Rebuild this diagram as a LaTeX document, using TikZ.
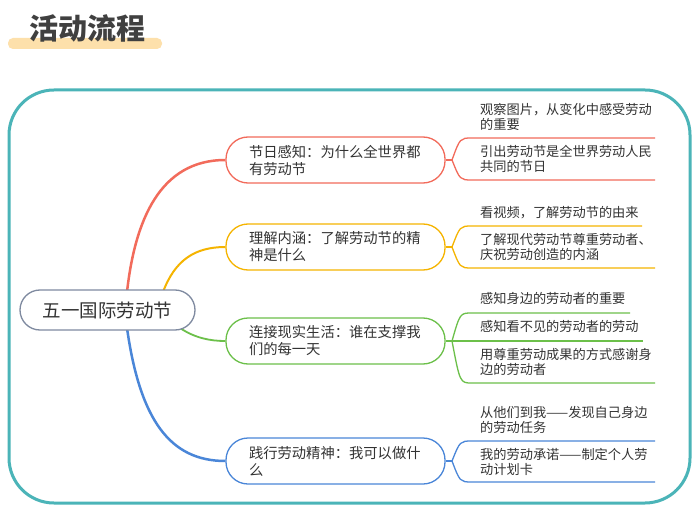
\documentclass[tikz,border=0pt]{standalone}
\usepackage{fontspec}
\setmainfont{Noto Sans CJK SC}
\begin{document}
\begin{tikzpicture}[x=1pt,y=-1pt,
 br/.style={draw=#1,line width=1.3pt,rounded corners=22pt,minimum width=219pt,minimum height=46pt,text width=173pt,align=left,font=\fontsize{14.3}{17}\selectfont,text=black!80,inner sep=0pt},
 leaf/.style={anchor=north west,align=left,font=\fontsize{13.2}{15}\selectfont,text=black!80,inner sep=0pt},
 con/.style={draw=#1,line width=1.5pt}]
\definecolor{teal}{HTML}{4BB4B8}\definecolor{rd}{HTML}{F26B5B}\definecolor{og}{HTML}{F5B400}
\definecolor{gn}{HTML}{6CC04A}\definecolor{bl}{HTML}{4A86D8}\definecolor{cg}{HTML}{7F8AA0}
\useasboundingbox (0,0) rectangle (700,529);
\fill[white] (0,0) rectangle (700,529);
\fill[yellow!25!orange!30, rounded corners=5pt] (8,38) rectangle (162,49);
\node[font=\bfseries\fontsize{29}{31}\selectfont,text=black!75,inner sep=0pt] (title) at (87,28) {活动流程};
\draw[teal,line width=3pt,rounded corners=45pt] (9,90) rectangle (690,503);
% main branches
\coordinate (rs) at (127,292); \coordinate (os) at (163,292);
\coordinate (gs) at (180,328); \coordinate (bs) at (127,328);
\node[br=rd] (n1) at (335.5,160) {节日感知：为什么全世界都\\有劳动节};
\node[br=og] (n2) at (335.5,247) {理解内涵：了解劳动节的精\\神是什么};
\node[br=gn] (n3) at (335.5,341) {连接现实生活：谁在支撑我\\们的每一天};
\node[br=bl] (n4) at (335.5,461) {践行劳动精神：我可以做什\\么};
\draw[rd,line width=2.5pt] (rs) .. controls (135,220) and (160,160) .. (n1.west);
\draw[og,line width=2pt] (os) .. controls (175,260) and (195,247) .. (n2.west);
\draw[gn,line width=1.8pt] (gs) .. controls (195,338) and (210,341) .. (n3.west);
\draw[bl,line width=2.5pt] (bs) .. controls (140,420) and (170,461) .. (n4.west);
\node[draw=cg,line width=1.3pt,rounded corners=20pt,minimum width=175pt,minimum height=40pt,fill=white,font=\fontsize{18.5}{20}\selectfont,text=black!80] (c) at (107.5,310) {五一国际劳动节};
% junctions
\coordinate (j1) at (452,160); \coordinate (j2) at (452,247);
\coordinate (j3) at (452,341); \coordinate (j4) at (452,461);
\foreach \n/\j/\c in {n1/j1/rd,n2/j2/og,n3/j3/gn,n4/j4/bl} \draw[\c,line width=1.3pt] (\n.east) -- (\j);
% leaves
\node[leaf] (l11) at (480,103) {观察图片，从变化中感受劳动\\的重要};
\node[leaf] (l12) at (480,145) {引出劳动节是全世界劳动人民\\共同的节日};
\node[leaf] (l21) at (480,206) {看视频，了解劳动节的由来};
\node[leaf] (l22) at (480,233) {了解现代劳动节尊重劳动者、\\庆祝劳动创造的内涵};
\node[leaf] (l31) at (480,292) {感知身边的劳动者的重要};
\node[leaf] (l32) at (480,320) {感知看不见的劳动者的劳动};
\node[leaf] (l33) at (480,348) {用尊重劳动成果的方式感谢身\\边的劳动者};
\node[leaf] (l41) at (480,406) {从他们到我——发现自己身边\\的劳动任务};
\node[leaf] (l42) at (480,448) {我的劳动承诺——制定个人劳\\动计划卡};
\foreach \j/\y/\e/\c/\nm in {j1/138/655/rd/a,j1/180/655/rd/b,j2/226/642/og/c,j2/268/655/og/d,j3/313/630/gn/e,j3/341/643/gn/f,j3/383/655/gn/g,j4/441/655/bl/h,j4/482/655/bl/i}{
 \coordinate (u\nm) at (472,\y); \coordinate (v\nm) at (\e,\y);
 \draw[\c,line width=1.3pt] (\j) .. controls (460,\y) .. (u\nm) -- (v\nm);}
\end{tikzpicture}
\end{document}
